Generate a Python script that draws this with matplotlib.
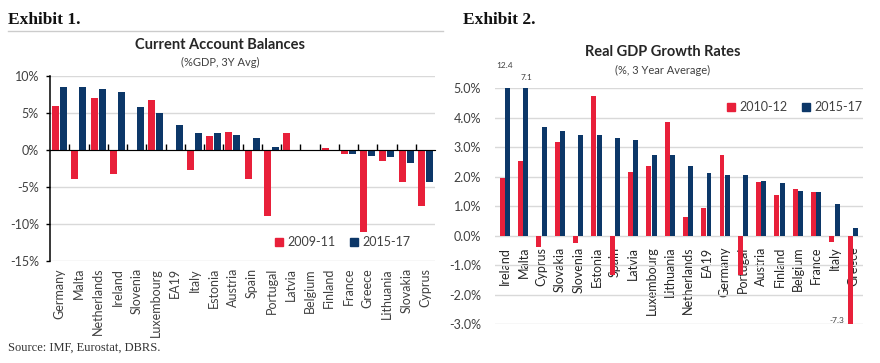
import matplotlib
matplotlib.use("Agg")
import matplotlib.pyplot as plt
from matplotlib.patches import Patch
import numpy as np

# ---------------- Data ----------------
ca_countries = ["Germany", "Malta", "Netherlands", "Ireland", "Slovenia", "Luxembourg",
                "EA19", "Italy", "Estonia", "Austria", "Spain", "Portugal", "Latvia",
                "Belgium", "Finland", "France", "Greece", "Lithuania", "Slovakia", "Cyprus"]
ca_2009_11 = [5.9, -3.9, 7.0, -3.3, -0.2, 6.7, 0.0, -2.7, 1.9, 2.4, -3.9, -8.9, 2.3,
              -0.05, 0.3, -0.6, -11.1, -1.5, -4.3, -7.6]
ca_2015_17 = [8.5, 8.5, 8.3, 7.8, 5.8, 5.0, 3.4, 2.3, 2.3, 2.0, 1.6, 0.45, 0.0,
              0.05, 0.0, -0.5, -0.8, -1.0, -1.7, -4.3]
ca_yticks = [10, 5, 0, -5, -10, -15]
ca_legend = ["2009-11", "2015-17"]

gdp_countries = ["Ireland", "Malta", "Cyprus", "Slovakia", "Slovenia", "Estonia", "Spain",
                 "Latvia", "Luxembourg", "Lithuania", "Netherlands", "EA19", "Germany",
                 "Portugal", "Austria", "Finland", "Belgium", "France", "Italy", "Greece"]
gdp_2010_12 = [1.95, 2.52, -0.4, 3.18, -0.26, 4.75, -1.32, 2.15, 2.35, 3.84, 0.62, 0.94,
               2.75, -1.32, 1.81, 1.38, 1.58, 1.47, -0.2, -7.3]
gdp_2015_17 = [12.4, 7.1, 3.69, 3.55, 3.42, 3.42, 3.3, 3.26, 2.75, 2.75, 2.36, 2.11,
               2.05, 2.05, 1.84, 1.77, 1.51, 1.47, 1.07, 0.26]
gdp_yticks = [5.0, 4.0, 3.0, 2.0, 1.0, 0.0, -1.0, -2.0, -3.0]
gdp_legend = ["2010-12", "2015-17"]

RED = "#E8203A"
BLUE = "#0C3768"
GRID = "#D9D9D9"
TXT = "#404040"
SANS = ["Lato", "DejaVu Sans"]
SERIF = ["Liberation Serif", "DejaVu Serif"]

W, H = 880, 363
fig = plt.figure(figsize=(W / 100, H / 100), dpi=100)

def fx(px):
    return px / W

def fy(py):
    return 1 - py / H

# ---------------- Headers ----------------
fig.text(fx(8), fy(20), "Exhibit 1.", family=SERIF, fontweight="bold", fontsize=12.5,
         va="center", ha="left", color="#111111")
fig.text(fx(463), fy(20), "Exhibit 2.", family=SERIF, fontweight="bold", fontsize=12.5,
         va="center", ha="left", color="#111111")
fig.add_artist(plt.Line2D([fx(8), fx(443)], [fy(31), fy(31)], color="#CCCCCC", lw=1))
fig.text(fx(8), fy(348), "Source: IMF, Eurostat, DBRS.", family=SERIF, fontsize=9,
         va="center", ha="left", color="#333333")

# ---------------- Exhibit 1 ----------------
ax1 = fig.add_axes([fx(50), fy(261), fx(385), (261 - 76) / H])
x1 = np.arange(len(ca_countries))
bw = 0.36
ax1.bar(x1 - 0.21, ca_2009_11, width=bw, color=RED, zorder=3)
ax1.bar(x1 + 0.21, ca_2015_17, width=bw, color=BLUE, zorder=3)
ax1.set_xlim(-0.5, len(ca_countries) - 0.5)
ax1.set_ylim(min(ca_yticks), max(ca_yticks))
ax1.set_yticks(ca_yticks)
ax1.set_yticklabels([f"{v}%" for v in ca_yticks], family=SANS, fontsize=9, color=TXT)
ax1.yaxis.grid(True, color=GRID, lw=1, zorder=0)
for s in ["top", "right", "bottom"]:
    ax1.spines[s].set_visible(False)
ax1.spines["left"].set_color("black")
ax1.spines["left"].set_linewidth(1.1)
ax1.tick_params(axis="y", length=3, width=1, pad=5, direction="out")
ax1.set_xticks(x1)
ax1.set_xticklabels(ca_countries, rotation=90, family=SANS, fontsize=9, color=TXT)
ax1.tick_params(axis="x", length=0, pad=5)
zero_frac = (0 - min(ca_yticks)) / (max(ca_yticks) - min(ca_yticks))
sec = ax1.secondary_xaxis(zero_frac)
sec.set_xticks(np.arange(len(ca_countries) - 1) + 0.5)
sec.set_xticklabels([])
sec.tick_params(axis="x", length=4, width=1, direction="out", colors="black")
sec.spines["bottom"].set_linewidth(1.1)
sec.spines["bottom"].set_color("black")
sec.set_zorder(4)
ax1.legend(handles=[Patch(color=RED), Patch(color=BLUE)], labels=ca_legend,
           loc="center", bbox_to_anchor=(0.76, 0.1), ncol=2, frameon=False,
           handlelength=0.6, handleheight=0.6, handletextpad=0.35, columnspacing=1.2,
           prop={"family": SANS, "size": 9}, labelcolor=TXT)
fig.text(fx(220), fy(45), "Current Account Balances", family=SANS, fontweight="bold",
         fontsize=10.5, ha="center", va="center", color="#262626")
fig.text(fx(220), fy(62), "(%GDP, 3Y Avg)", family=SANS, fontsize=8,
         ha="center", va="center", color=TXT)

# ---------------- Exhibit 2 ----------------
ax2 = fig.add_axes([fx(495), fy(324), fx(368), (324 - 88.3) / H])
x2 = np.arange(len(gdp_countries))
bw2 = 0.27
ax2.bar(x2 - 0.15, gdp_2010_12, width=bw2, color=RED, zorder=3)
ax2.bar(x2 + 0.14, gdp_2015_17, width=bw2, color=BLUE, zorder=3)
ymin2, ymax2 = min(gdp_yticks), max(gdp_yticks)
ax2.set_xlim(-0.55, len(gdp_countries) - 0.45)
ax2.set_ylim(ymin2, ymax2)
ax2.set_yticks(gdp_yticks)
ax2.set_yticklabels([f"{v:.1f}%" for v in gdp_yticks], family=SANS, fontsize=9, color=TXT)
ax2.yaxis.grid(True, color=GRID, lw=1, zorder=0)
for s in ["top", "right", "left"]:
    ax2.spines[s].set_visible(False)
ax2.spines["bottom"].set_position(("data", 0))
ax2.spines["bottom"].set_visible(False)
ax2.tick_params(axis="y", length=0, pad=10)
ax2.set_xticks(x2)
ax2.set_xticklabels(gdp_countries, rotation=90, family=SANS, fontsize=9, color="#262626")
ax2.tick_params(axis="x", length=0, pad=8)
for lbl in ax2.get_xticklabels():
    lbl.set_zorder(5)
# annotate clipped bars
for i, v in enumerate(gdp_2015_17):
    if v > ymax2:
        off = 14 if i == 0 else 5
        ax2.annotate(f"{v:.1f}", xy=(i + 0.14, ymax2), xytext=(-2 if i == 0 else 0, off),
                     textcoords="offset points", ha="center", va="bottom",
                     fontsize=6, family=SANS, color=TXT, annotation_clip=False)
for i, v in enumerate(gdp_2010_12):
    if v < ymin2:
        ax2.annotate(f"{v:.1f}", xy=(i - 0.15, ymin2), xytext=(-4, 0),
                     textcoords="offset points", ha="right", va="bottom",
                     fontsize=6, family=SANS, color=TXT, annotation_clip=False)
ax2.legend(handles=[Patch(color=RED), Patch(color=BLUE)], labels=gdp_legend,
           loc="center", bbox_to_anchor=(0.815, 0.92), ncol=2, frameon=False,
           handlelength=0.6, handleheight=0.6, handletextpad=0.35, columnspacing=1.2,
           prop={"family": SANS, "size": 9}, labelcolor=TXT)
fig.text(fx(663), fy(52), "Real GDP Growth Rates", family=SANS, fontweight="bold",
         fontsize=10.5, ha="center", va="center", color="#262626")
fig.text(fx(663), fy(70), "(%, 3 Year Average)", family=SANS, fontsize=8,
         ha="center", va="center", color=TXT)

fig.savefig("out.png", dpi=100)
